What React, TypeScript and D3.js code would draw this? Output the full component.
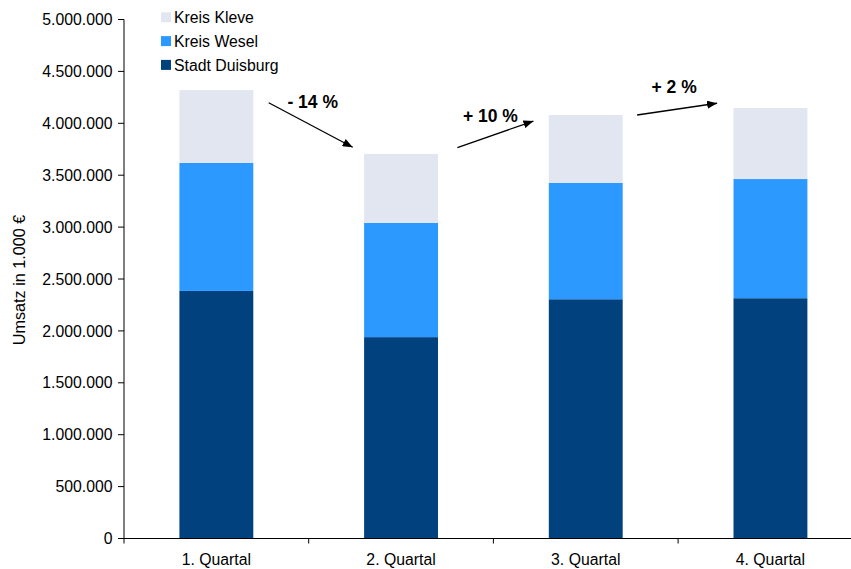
import React from "react";
import * as d3 from "d3";

const categories = ["1. Quartal", "2. Quartal", "3. Quartal", "4. Quartal"];
const seriesNames = ["Stadt Duisburg", "Kreis Wesel", "Kreis Kleve"];
const duisburg = [2385000, 1940000, 2305000, 2315000];
const wesel = [1233000, 1100000, 1120000, 1148000];
const kleve = [702000, 665000, 655000, 684000];
const seriesColors = ["#00417e", "#2b99ff", "#e1e6f1"];
const yTicks = [0, 500000, 1000000, 1500000, 2000000, 2500000, 3000000, 3500000, 4000000, 4500000, 5000000];
const arrowLabels = ["- 14 %", "+ 10 %", "+ 2 %"];
const arrowStart = [4198000, 3765000, 4080000];
const arrowEnd = [3769000, 4022000, 4193000];
const arrowHalf = [42, 38, 40];
const arrowShift = [2, 2, -1];
const labelY = [4145000, 4010000, 4289000];
const labelShift = [4, -3, -4];

const W = 851;
const H = 569;
const left = 124;
const step = 184.7;

export default function App() {
  const y = d3.scaleLinear().domain([0, 5000000]).range([538.5, 19.5]);
  const x = d3
    .scaleBand<string>()
    .domain(categories)
    .range([left, left + step * categories.length])
    .paddingInner(0.6)
    .paddingOuter(0.3);
  const fmt = d3.formatLocale({ decimal: ",", thousands: ".", grouping: [3], currency: ["", "€"] }).format(",");

  const table = categories.map((c, i) => ({ cat: c, "Stadt Duisburg": duisburg[i], "Kreis Wesel": wesel[i], "Kreis Kleve": kleve[i] }));
  const stacked = d3.stack<any>().keys(seriesNames)(table);

  const font = "'Liberation Sans', Arial, sans-serif";
  const y0 = y(0);
  const boundaries = categories.slice(0, -1).map((c) => (x(c) as number) + x.bandwidth() + (step - x.bandwidth()) / 2);
  const legendOrder = [2, 1, 0];

  return (
    <svg width={W} height={H} style={{ position: "absolute", left: 0, top: 0 }} fontFamily={font}>
      <defs>
        <marker id="ah" viewBox="0 0 10 8" refX="10" refY="4" markerWidth="10" markerHeight="8" markerUnits="userSpaceOnUse" orient="auto">
          <path d="M0,0 L10,4 L0,8 Z" fill="#000" />
        </marker>
      </defs>
      {stacked.map((s, si) =>
        s.map((d, i) => (
          <rect
            key={si + "-" + i}
            x={x(categories[i])}
            width={x.bandwidth()}
            y={y(d[1])}
            height={y(d[0]) - y(d[1])}
            fill={seriesColors[si]}
          />
        ))
      )}
      {/* y axis */}
      <line x1={left} x2={left} y1={y(5000000)} y2={y0} stroke="#000" strokeWidth={1} />
      {yTicks.map((t) => (
        <g key={t}>
          <line x1={left - 6} x2={left} y1={y(t)} y2={y(t)} stroke="#000" />
          <text x={left - 11.5} y={y(t)} dy="0.36em" textAnchor="end" fontSize={15.8} fill="#000">
            {fmt(t)}
          </text>
        </g>
      ))}
      {/* x axis */}
      <line x1={left} x2={left + step * categories.length} y1={y0} y2={y0} stroke="#000" />
      {[left, ...boundaries, left + step * categories.length].map((b, i) => (
        <line key={i} x1={b} x2={b} y1={y0} y2={y0 + 5} stroke="#000" />
      ))}
      {categories.map((c) => (
        <text key={c} x={(x(c) as number) + x.bandwidth() / 2} y={564.5} textAnchor="middle" fontSize={15.8} fill="#000">
          {c}
        </text>
      ))}
      {/* y title */}
      <text transform={`translate(24.5,${(y(0) + y(5000000)) / 2 + 1}) rotate(-90)`} textAnchor="middle" fontSize={16.2} fill="#000">
        Umsatz in 1.000 €
      </text>
      {/* legend */}
      {legendOrder.map((si, k) => (
        <g key={si}>
          <rect x={161} y={12.3 + k * 23.8} width={10} height={10} fill={seriesColors[si]} />
          <text x={174} y={23.2 + k * 23.8} fontSize={15.8} fill="#000">
            {seriesNames[si]}
          </text>
        </g>
      ))}
      {/* arrows */}
      {arrowLabels.map((l, i) => {
        const b = boundaries[i] + arrowShift[i];
        return (
          <g key={l}>
            <line
              x1={b - arrowHalf[i]}
              y1={y(arrowStart[i])}
              x2={b + arrowHalf[i]}
              y2={y(arrowEnd[i])}
              stroke="#000"
              strokeWidth={1.3}
              markerEnd="url(#ah)"
            />
            <text x={boundaries[i] + labelShift[i]} y={y(labelY[i])} textAnchor="middle" fontSize={17.5} fontWeight="bold" fill="#000">
              {l}
            </text>
          </g>
        );
      })}
    </svg>
  );
}
